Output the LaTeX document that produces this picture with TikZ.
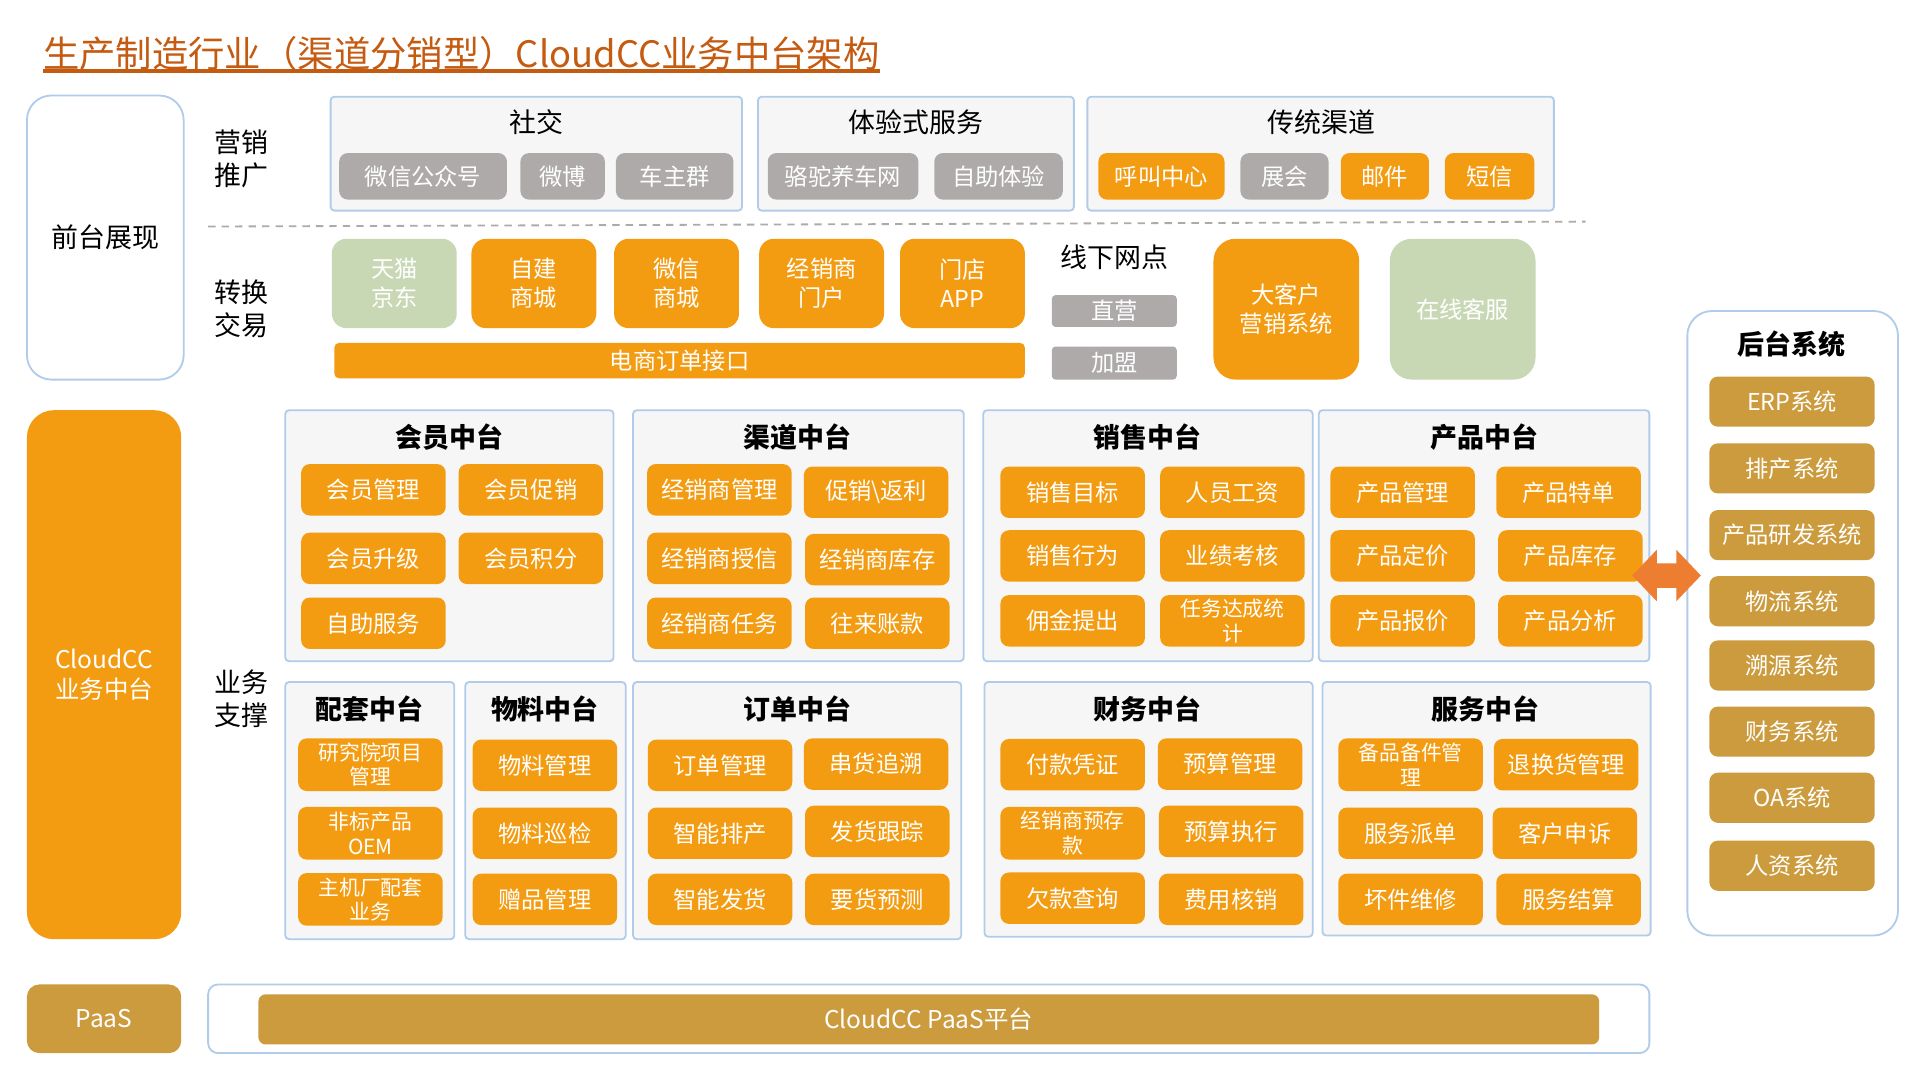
\documentclass[tikz,border=0pt]{standalone}
\usepackage{fontspec}
\setmainfont{Noto Sans CJK SC}
\usetikzlibrary{positioning}
\definecolor{corange}{RGB}{243,156,18}
\definecolor{cgray}{RGB}{174,170,170}
\definecolor{cgold}{RGB}{203,155,62}
\definecolor{cgreen}{RGB}{200,216,180}
\definecolor{cblue}{RGB}{176,204,234}
\definecolor{cfill}{RGB}{246,246,246}
\definecolor{ctitle}{RGB}{197,90,17}
\definecolor{carrow}{RGB}{237,125,49}
\begin{document}
\begin{tikzpicture}[x=1pt,y=-1pt,
    grp/.style={draw=cblue, line width=1.5pt, fill=cfill, rounded corners=3pt, inner sep=0pt},
    grptitle/.style={font=\fontsize{22}{26}\selectfont\bfseries},
    toptitle/.style={font=\fontsize{22}{26}\selectfont},
    lbl/.style={align=center, font=\fontsize{22}{27}\selectfont},
    item/.style={fill=corange, text=white, rounded corners=7pt, minimum width=118pt, minimum height=42pt, inner sep=1pt, align=center, font=\fontsize{19}{21}\selectfont},
    twoline/.style={font=\fontsize{17}{20}\selectfont},
    golditem/.style={item, fill=cgold, minimum width=135pt, minimum height=41pt},
    bigbox/.style={draw=cblue, line width=1.5pt, fill=white, rounded corners=20pt, inner sep=0pt}
]
\fill[white] (0,0) rectangle (1568,882);
\useasboundingbox (0,0) rectangle (1568,882);

% title
\node[anchor=base west, inner sep=0pt, text=ctitle, font=\fontsize{29.7}{33}\selectfont] (title) at (35,55) {生产制造行业（渠道分销型）CloudCC业务中台架构};
\draw[ctitle, line width=2.5pt] ([yshift=-3pt]title.base west) -- ([yshift=-3pt]title.base east);

% left column
\node[bigbox, minimum width=128pt, minimum height=232pt, font=\fontsize{22}{26}\selectfont] (front) at (86,194) {前台展现};
\node[fill=corange, text=white, rounded corners=22pt, minimum width=126pt, minimum height=432pt, align=center, font=\fontsize{20}{24}\selectfont] (mid) at (85,551) {CloudCC\\业务中台};
\node[fill=cgold, text=white, rounded corners=10pt, minimum width=126pt, minimum height=56pt, font=\fontsize{20}{24}\selectfont] (paas) at (85,832) {PaaS};

% row labels
\node[lbl] (l1) at (197,130) {营销\\推广};
\node[lbl] (l2) at (197,252) {转换\\交易};
\node[lbl] (l3) at (197,571) {业务\\支撑};

% group boxes
\foreach \nm/\cx/\cy/\w/\h in {sj/438/125.5/336/93, ty/748/125.5/258/93, ct/1078.5/125.5/381/93,
    hy/367/437.5/268/205, qd/652/437.5/270/205, xs/937.5/437.5/269/205, cp/1212/437.5/270/205,
    pt/302/662/138/210, wl/445.5/662/131/210, dd/651/662/268/210, cw/938/661/268/208, fw/1214/660.5/268/207}{
    \node[grp, minimum width=\w pt, minimum height=\h pt] (\nm) at (\cx,\cy) {};
}

% group titles
\node[toptitle] (sj-t) at (438,100) {社交};
\node[toptitle] (ty-t) at (748,100) {体验式服务};
\node[toptitle] (ct-t) at (1079,100) {传统渠道};
\foreach \nm/\cx/\cy/\txt in {hy/367/357/会员中台, qd/651/357/渠道中台, xs/937/357/销售中台, cp/1212/357/产品中台,
    pt/302/579/配套中台, wl/445/579/物料中台, dd/651/579/订单中台, cw/937/579/财务中台, fw/1213/579/服务中台}{
    \node[grptitle] (\nm-t) at (\cx,\cy) {\txt};
}

% marketing items
\foreach \nm/\cx/\w/\c/\txt in {s1/345.5/137/cgray/微信公众号, s2/459.5/69/cgray/微博, s3/551/96/cgray/车主群,
    s4/688.5/123/cgray/骆驼养车网, s5/815.5/105/cgray/自助体验, s6/948.5/103/corange/呼叫中心,
    s7/1049/72/cgray/展会, s8/1131/72/corange/邮件, s9/1216.5/73/corange/短信}{
    \node[item, fill=\c, minimum width=\w pt, minimum height=38pt] (\nm) at (\cx,144) {\txt};
}

% dashed separator
\coordinate (d1) at (170,185);
\coordinate (d2) at (1295,181);
\draw[cgray, line width=1.5pt, dash pattern=on 6pt off 5pt] (d1) -- (d2);

% transaction items
\foreach \nm/\cx/\c/\txt in {t1/322/cgreen/{天猫\\京东}, t2/436/corange/{自建\\商城}, t3/552.5/corange/{微信\\商城},
    t4/671/corange/{经销商\\门户}, t5/786/corange/{门店\\APP}}{
    \node[item, fill=\c, rounded corners=12pt, minimum width=102pt, minimum height=73pt, font=\fontsize{19}{24}\selectfont] (\nm) at (\cx,231.5) {\txt};
}
\node[item, rounded corners=4pt, minimum width=564pt, minimum height=29pt] (api) at (555,294.5) {电商订单接口};
\node[toptitle] (off) at (910,210) {线下网点};
\node[item, fill=cgray, rounded corners=3pt, minimum width=102pt, minimum height=26pt] (zy) at (910,254) {直营};
\node[item, fill=cgray, rounded corners=3pt, minimum width=102pt, minimum height=27pt] (jm) at (910,296.5) {加盟};
\node[item, rounded corners=18pt, minimum width=119pt, minimum height=115pt, font=\fontsize{19}{24}\selectfont] (dkh) at (1050.5,252.5) {大客户\\营销系统};
\node[item, fill=cgreen, rounded corners=18pt, minimum width=119pt, minimum height=115pt] (kf) at (1194.5,252.5) {在线客服};

% middle row items
\foreach \nm/\cx/\cy/\txt in {hy1/305/400/会员管理, hy2/433.5/400/会员促销, hy3/305/456/会员升级, hy4/433.5/456/会员积分, hy5/305/509/自助服务,
    qd1/587.5/400/经销商管理, qd2/715.5/402/{促销\textbackslash 返利}, qd3/587.5/456/经销商授信, qd4/716.5/457/经销商库存, qd5/587.5/509/经销商任务, qd6/716.5/509/往来账款,
    xs1/876/402/销售目标, xs2/1006.5/402/人员工资, xs3/876/454/销售行为, xs4/1006.5/454/业绩考核, xs5/876/507/佣金提出,
    cp1/1145.5/402/产品管理, cp2/1281/402/产品特单, cp3/1145.5/454/产品定价, cp4/1282.5/454/产品库存, cp5/1145.5/507/产品报价, cp6/1282.5/507/产品分析}{
    \node[item] (\nm) at (\cx,\cy) {\txt};
}
\node[item, twoline] (xs6) at (1006.5,507) {任务达成统\\计};

% bottom row items
\foreach \nm/\cx/\cy/\txt in {pt1/302.5/624.5/{研究院项目\\管理}, pt2/302.5/680.5/{非标产品\\OEM}, pt3/302.5/734.5/{主机厂配套\\业务},
    cw3/876/680.5/{经销商预存\\款}, fw1/1152/624.5/{备品备件管\\理}}{
    \node[item, twoline, minimum height=43pt] (\nm) at (\cx,\cy) {\txt};
}
\foreach \nm/\cx/\cy/\txt in {wl1/445/625/物料管理, wl2/445/680.5/物料巡检, wl3/445/734.5/赠品管理,
    dd1/588/625/订单管理, dd2/715.5/624/串货追溯, dd3/588/680.5/智能排产, dd4/716.5/679/发货跟踪, dd5/588/734.5/智能发货, dd6/716.5/734.5/要货预测,
    cw1/876/624.5/付款凭证, cw2/1004.5/624/预算管理, cw4/1005.5/679/预算执行, cw5/876/733.5/欠款查询, cw6/1005.5/734.5/费用核销,
    fw2/1279/624.5/退换货管理, fw3/1152/680.5/服务派单, fw4/1278/680.5/客户申诉, fw5/1152/734.5/坏件维修, fw6/1281/734.5/服务结算}{
    \node[item] (\nm) at (\cx,\cy) {\txt};
}

% back office
\node[bigbox, minimum width=172pt, minimum height=510pt] (ht) at (1464,509) {};
\node[grptitle] (ht-t) at (1463,281) {后台系统};
\foreach \nm/\cy/\txt in {b1/328/ERP系统, b2/382.5/排产系统, b3/437/产品研发系统, b4/491/物流系统,
    b5/543.5/溯源系统, b6/597.5/财务系统, b7/651.5/OA系统, b8/707/人资系统}{
    \node[golditem] (\nm) at (1463.5,\cy) {\txt};
}

% double arrow between product and back office
\fill[carrow] (1333,470) -- (1353,449) -- (1353,460) -- (1369,460) -- (1369,449) -- (1389,470)
    -- (1369,491) -- (1369,480) -- (1353,480) -- (1353,491) -- cycle;

% paas row
\node[draw=cblue, line width=1.5pt, fill=white, rounded corners=8pt, minimum width=1177pt, minimum height=56pt] (pout) at (758.5,832) {};
\node[item, fill=cgold, rounded corners=6pt, minimum width=1095pt, minimum height=41pt, font=\fontsize{20}{24}\selectfont] (pbar) at (758.5,832.5) {CloudCC PaaS平台};
\end{tikzpicture}
\end{document}
